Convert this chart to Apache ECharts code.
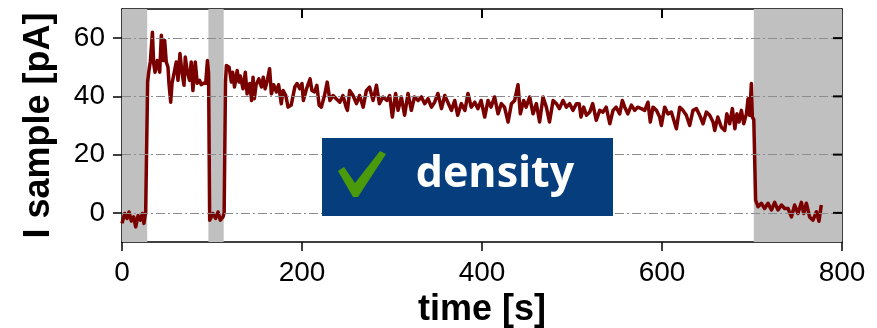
<!DOCTYPE html>
<html>
<head>
<meta charset="utf-8">
<script src="https://cdn.jsdelivr.net/npm/echarts@6/dist/echarts.min.js"></script>
<style>
html,body{margin:0;padding:0;background:#fff;}
#chart{width:877px;height:328px;}
</style>
</head>
<body>
<div id="chart"></div>
<script>
// time [s]
var times = [0,3,5.6,7.8,10.4,13,15.2,17.8,20.4,22.7,24.4,26.3,28.5,30,31.5,33.8,35.2,36.7,39.2,41.9,43.7,45.9,47.4,49.2,51.1,52.2,54.1,55.6,57.8,60.3,62.2,64.4,66.6,68.9,70.3,72.6,75.1,76.9,78.8,81.4,83.6,86.2,88,90.4,93,94.9,96.2,97.4,101,104,106.7,109.3,112.2,113.5,115,116,119,121.5,123,125,128,130,131.5,134.5,137,139,142,144,145.6,147,149,152,155,157,159,161.5,164,166,168.5,171.5,174,177,179,182,184.5,188,192,194.5,197.5,200,201.5,205,209,211,214,216.5,219,221.5,225,228,231,234.5,238,242,245.5,249,250.5,253,256.7,260.5,264,268,271.5,275,279,282.7,286,290,294.4,297.4,300.4,304,306.7,310.4,314,317.8,321.5,325,329,332.7,336.3,340,343.8,347.4,351,355,358.6,362,366,369.7,373,377,381,384.4,388,392,395.5,399,403,406.7,410,414,417.8,421.5,425,429,432.7,436.3,440,442.6,446.3,449,453,456.7,460.4,464,467.8,471.5,475,479,482.7,486,490,493.8,497.4,501,505,508,510,513,516,519.7,523,527,530.8,534.4,538,542,545.6,549,553,556,558.6,562,566,569.7,573,577,580.8,584.4,587,590,593.8,597.4,599.3,603,606.7,610.4,616,619.7,623.3,627,630.8,634.4,638.2,641.9,645.6,649.3,653,656.7,658.6,662,666,669.7,672,675.2,678.2,681,683.3,685.6,688.2,690.8,693.8,695.6,697.4,699.3,700.4,702,704,706.7,710.4,714,717.8,721.6,725.2,728.9,732.7,736.3,740,743.8,747.4,751,754.9,757.4,760.4,764,767.8,771.6,774.4,777];
// I sample [pA]
var current = [-3.6,-0.2,-1.9,0.3,-2.8,-1.4,-4.8,-1,-2.5,-0.2,-3.6,0.3,45,49,52,62,51.3,48.3,52.3,48.3,61,52.3,59.2,51.8,50,44.4,38,44.5,47.9,51.8,45.5,54.7,48.3,43.8,53.5,48.3,45.5,51.8,42,51.8,44.5,45.5,44,44.5,44.5,52.3,48,-2.5,-0.2,-1.9,0.3,-2.5,-1.4,0,45,50.6,50,44.9,48.3,43.2,48.9,44.9,47,42.6,48.3,40.9,44.4,38.6,46.6,39.2,44,46,43.2,46.6,42.6,45.6,49.5,40.9,44,41.5,44,37.5,42,40.3,36.3,37,43.2,44.4,42.6,44.4,38.6,42.6,46,42,41.5,43.8,37,36.3,40.3,44.9,38.6,40.3,39.2,38,40.3,36.3,35.2,42,40.3,37.5,40.3,36.3,42,43.2,38.6,43.8,37.5,39.8,38.6,40.3,32.9,41,35.2,39.8,33.5,41,35.2,39.8,38.6,39.8,37.5,39.2,36.3,38,41,35.8,40.3,38,35.2,38.6,33.5,37.5,35.2,41,36.3,38,35.8,38.6,32.9,38.6,36.3,39.8,34,37.5,36.3,31.2,37.5,38.6,44,34,38.6,36.3,39.8,34,37.5,31.2,39.8,36.3,31.2,38.6,37.5,35.8,38.6,36.3,37.5,35.2,37.5,37.5,32.9,36.3,33.5,34.6,37.5,31.8,35.2,34.6,36.3,30.6,35.2,36.3,34,38.6,36.3,34,37,35.2,36.3,35.8,35.2,38,31.2,36.3,35.2,32.9,30,36.3,34,34.6,28.9,36.3,35.2,33.5,30,35.2,35.8,33.5,30.6,34.6,33.5,31.2,28.3,32.9,29.4,28.3,34,30.6,35.8,28.9,34,31.2,35.2,30.6,34,39.2,33.5,44.4,32.9,32,4.4,2.1,3.3,1.5,3.3,1,3.6,1,2.7,1.5,1.5,-1.4,2.7,-0.2,3.6,-0.2,3.3,-1.4,-2.5,0.4,-2.9,2.7];
// shaded intervals [start, end] in s
var bandStarts = [0, 96, 702];
var bandEnds = [28, 113, 800];
// tick values
var xTicks = [0, 200, 400, 600, 800];
var yTicks = [0, 20, 40, 60];
var labelText = 'density';

var X_MIN = 0, X_MAX = 800, Y_MIN = -10, Y_MAX = 70;
var chart = echarts.init(document.getElementById('chart'), null, {renderer: 'canvas'});
var data = times.map(function (t, i) { return [t, current[i]]; });
var bands = bandStarts.map(function (s, i) {
  return [{xAxis: s}, {xAxis: bandEnds[i]}];
});
var dashStyle = {color: '#8c8c8c', width: 1.2, type: [9, 3, 2, 3]};
var gridLines = yTicks.map(function (v) { return {yAxis: v}; });

var axisFont = 'Liberation Sans, Arial, sans-serif';
var tickStyle = {color: '#000', width: 1.5};

var boxGraphics = [{
  type: 'rect', z: 100, shape: {x: 322, y: 138, width: 291, height: 78},
  style: {fill: '#063d7c'}
}, {
  type: 'polygon', z: 101,
  shape: {points: [[338, 171], [344, 167], [355, 183], [380, 151], [386, 154], [358, 197], [353, 197]]},
  style: {fill: '#4a9a0b'}
}, {
  type: 'text', z: 101, x: 495, y: 175,
  style: {text: labelText, fill: '#fff', font: 'bold 43px "Open Sans", sans-serif', align: 'center', verticalAlign: 'middle'}
}];

chart.setOption({
  animation: false,
  grid: {left: 122, right: 35, top: 9, bottom: 86, containLabel: false, outerBoundsMode: 'none'},
  xAxis: [{
    type: 'value', position: 'bottom', min: X_MIN, max: X_MAX, interval: 200,
    name: 'time [s]', nameLocation: 'middle', nameGap: 49,
    nameTextStyle: {fontFamily: axisFont, fontWeight: 'bold', fontSize: 36, color: '#000'},
    axisLine: {show: true, onZero: false, lineStyle: {color: '#000', width: 1.5}},
    axisTick: {show: true, inside: false, length: 9, lineStyle: tickStyle},
    axisLabel: {fontFamily: axisFont, fontSize: 28, color: '#000', margin: 17},
    splitLine: {show: false}
  }, {
    type: 'value', position: 'top', min: X_MIN, max: X_MAX, interval: 200,
    axisLine: {show: true, onZero: false, lineStyle: {color: '#000', width: 1.5}},
    axisTick: {show: false},
    axisLabel: {show: false},
    splitLine: {show: false}
  }],
  yAxis: [{
    type: 'value', position: 'left', min: Y_MIN, max: Y_MAX,
    name: 'I sample [pA]', nameLocation: 'middle', nameGap: 65,
    nameTextStyle: {fontFamily: axisFont, fontWeight: 'bold', fontSize: 36, color: '#000'},
    axisLine: {show: true, onZero: false, lineStyle: {color: '#000', width: 1.5}},
    axisTick: {show: true, inside: false, length: 9, customValues: yTicks, lineStyle: tickStyle},
    axisLabel: {fontFamily: axisFont, fontSize: 28, color: '#000', margin: 17, customValues: yTicks},
    splitLine: {show: false}
  }, {
    type: 'value', position: 'right', min: Y_MIN, max: Y_MAX,
    axisLine: {show: true, onZero: false, lineStyle: {color: '#000', width: 1.5}},
    axisTick: {show: false},
    axisLabel: {show: false},
    splitLine: {show: false}
  }],
  series: [{
    type: 'line', xAxisIndex: 0, yAxisIndex: 0, data: [], z: 1,
    silent: true,
    markArea: {silent: true, itemStyle: {color: '#c0c0c0'}, data: bands},
    markLine: {silent: true, symbol: ['none', 'none'], label: {show: false},
      lineStyle: dashStyle, data: gridLines}
  }, {
    type: 'line', xAxisIndex: 0, yAxisIndex: 0, data: data, z: 3,
    showSymbol: false, symbol: 'none', smooth: false,
    lineStyle: {color: '#7a0000', width: 3.5, join: 'round'}
  }],
  graphic: boxGraphics
});

// inward ticks on the top and right frame, positioned through the chart's own scales
var TICK_PX = 9;
var tickGraphics = [];
xTicks.slice(1, -1).forEach(function (v) {
  var p = chart.convertToPixel({gridIndex: 0}, [v, Y_MAX]);
  tickGraphics.push({type: 'line', z: 50, shape: {x1: p[0], y1: p[1], x2: p[0], y2: p[1] + TICK_PX},
    style: {stroke: '#000', lineWidth: 2}});
});
yTicks.forEach(function (v) {
  var p = chart.convertToPixel({gridIndex: 0}, [X_MAX, v]);
  tickGraphics.push({type: 'line', z: 50, shape: {x1: p[0], y1: p[1], x2: p[0] - TICK_PX, y2: p[1]},
    style: {stroke: '#000', lineWidth: 2}});
});
chart.setOption({graphic: boxGraphics.concat(tickGraphics)}, {replaceMerge: ['graphic']});
</script>
</body>
</html>
